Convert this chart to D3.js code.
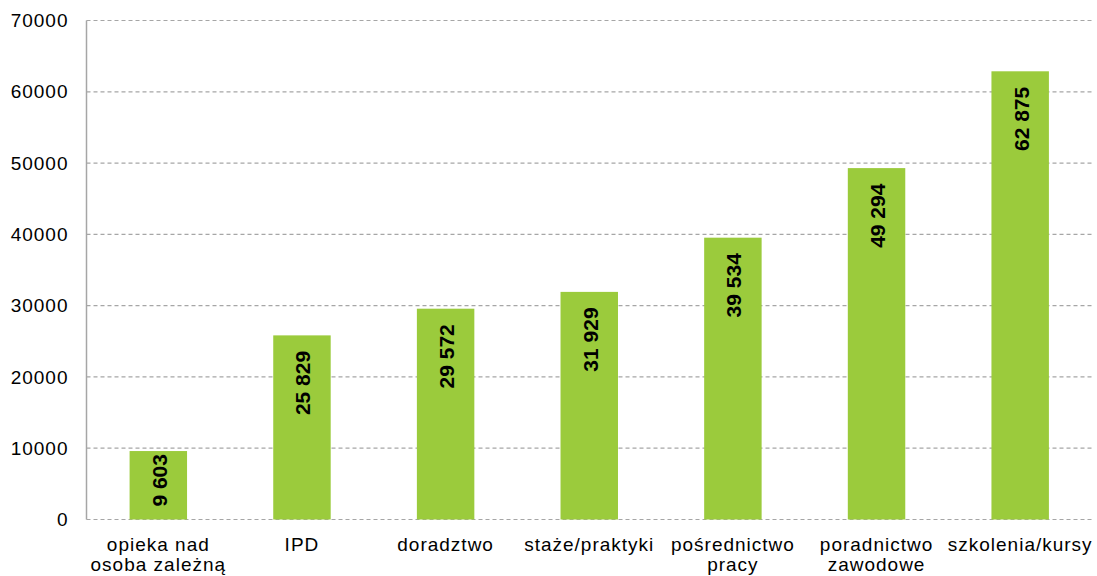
<!DOCTYPE html>
<html>
<head>
<meta charset="utf-8">
<script src="https://cdn.jsdelivr.net/npm/d3@7"></script>
<style>
  html, body { margin: 0; padding: 0; background: #fff; }
  svg { display: block; }
</style>
</head>
<body>
<div id="chart"></div>
<script>
// Liczba uczestników według formy wsparcia
const categories = [
  ["opieka nad", "osoba zależną"],
  ["IPD"],
  ["doradztwo"],
  ["staże/praktyki"],
  ["pośrednictwo", "pracy"],
  ["poradnictwo", "zawodowe"],
  ["szkolenia/kursy"]
];
const values = [9603, 25829, 29572, 31929, 39534, 49294, 62875];
const yTicks = [0, 10000, 20000, 30000, 40000, 50000, 60000, 70000];

const W = 1097, H = 576;
const margin = { left: 86.5, right: 5, top: 20.5, bottom: 56.5 };

const svg = d3.select("#chart").append("svg")
  .attr("width", W).attr("height", H);

const keys = categories.map((c, i) => i);

const x = d3.scaleBand()
  .domain(keys)
  .range([margin.left, W - margin.right])
  .paddingInner(0.6)
  .paddingOuter(0.3);

const y = d3.scaleLinear()
  .domain([0, 70000])
  .range([H - margin.bottom, margin.top]);

const gridColor = "#a6a6a6";

// poziome linie siatki
svg.append("g")
  .selectAll("line")
  .data(yTicks)
  .join("line")
  .attr("x1", margin.left)
  .attr("x2", W - margin.right)
  .attr("y1", d => y(d))
  .attr("y2", d => y(d))
  .attr("stroke", gridColor)
  .attr("stroke-width", 1.2)
  .attr("stroke-dasharray", "4,3");

// oś Y
const yAxis = d3.axisLeft(y)
  .tickValues(yTicks)
  .tickSize(0)
  .tickPadding(18)
  .tickFormat(d => String(d));

const gy = svg.append("g")
  .attr("transform", `translate(${margin.left},0)`)
  .call(yAxis);
gy.select(".domain").remove();
gy.selectAll("text")
  .attr("font-family", "Arial, 'Liberation Sans', sans-serif")
  .attr("font-size", 19)
  .attr("letter-spacing", "1px")
  .attr("fill", "#000");

svg.append("line")
  .attr("x1", margin.left).attr("x2", margin.left)
  .attr("y1", y(70000)).attr("y2", y(0))
  .attr("stroke", gridColor)
  .attr("stroke-width", 1.5);

// słupki
svg.append("g")
  .selectAll("rect")
  .data(values)
  .join("rect")
  .attr("x", (d, i) => x(i))
  .attr("width", x.bandwidth())
  .attr("y", d => y(d))
  .attr("height", d => y(0) - y(d))
  .attr("fill", "#9bcb3c");

// etykiety wartości (pionowe)
const fmt = v => d3.format(",")(v).replace(/,/g, " ");
const labels = svg.append("g")
  .selectAll("text")
  .data(values)
  .join("text")
  .attr("font-family", "Arial, 'Liberation Sans', sans-serif")
  .attr("font-size", 21)
  .attr("font-weight", "bold")
  .attr("fill", "#000")
  .attr("text-anchor", "end")
  .attr("dominant-baseline", "central")
  .text(d => fmt(d));

labels.each(function (d, i) {
  const len = this.getComputedTextLength();
  const cx = x(i) + x.bandwidth() / 2 + 1;
  let top = y(d) + 15.5;
  const maxTop = y(0) - 14 - len;
  if (top > maxTop) top = Math.max(y(d) + 3, maxTop);
  d3.select(this).attr("transform", `translate(${cx},${top}) rotate(-90)`);
});

// etykiety kategorii
const cat = svg.append("g")
  .selectAll("text")
  .data(categories)
  .join("text")
  .attr("font-family", "Arial, 'Liberation Sans', sans-serif")
  .attr("font-size", 19)
  .attr("letter-spacing", "1px")
  .attr("fill", "#000")
  .attr("text-anchor", "middle")
  .attr("transform", (d, i) => `translate(${x(i) + x.bandwidth() / 2},551)`);

cat.selectAll("tspan")
  .data(d => d)
  .join("tspan")
  .attr("x", 0)
  .attr("y", (d, j) => j * 20)
  .text(d => d);
</script>
</body>
</html>
